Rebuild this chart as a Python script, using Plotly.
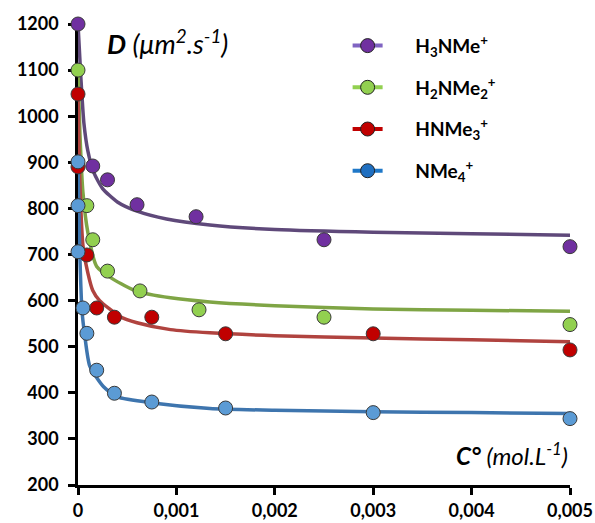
import plotly.graph_objects as go

# ---- measured points ----
x_h3 = [0, 0.00015, 0.0003, 0.0006, 0.0012, 0.0025, 0.005]
y_h3 = [1200, 892, 862, 808, 782, 732, 717]

x_h2 = [0, 0.00009, 0.00015, 0.0003, 0.00063, 0.00123, 0.0025, 0.005]
y_h2 = [1100, 806, 732, 664, 621, 580, 564, 548]

x_h1 = [0, 0, 0.00009, 0.00019, 0.00037, 0.00075, 0.0015, 0.003, 0.005]
y_h1 = [1048, 890, 699, 584, 564, 564, 528, 528, 493]

x_h0 = [0, 0, 0, 0.00005, 0.00009, 0.00019, 0.00037, 0.00075, 0.0015, 0.003, 0.005]
y_h0 = [901, 806, 706, 584, 529, 449, 399, 380, 367, 357, 344]

# ---- fitted curves ----
fx_h3 = [0, 0.00003, 0.00006, 0.0001, 0.00016, 0.00025, 0.0004, 0.0006, 0.0009, 0.00134, 0.002, 0.003, 0.004, 0.005]
fy_h3 = [1200, 1080, 985, 925, 878, 843, 814, 794, 777, 764, 754, 748, 745, 742]

fx_h2 = [0, 0.00002, 0.00005, 0.0001, 0.00019, 0.00036, 0.0006, 0.00094, 0.00134, 0.002, 0.003, 0.004, 0.005]
fy_h2 = [1100, 960, 835, 748, 674, 646, 620, 606, 597, 589, 582, 579, 577]

fx_h1 = [0, 0.00002, 0.00005, 0.0001, 0.00015, 0.00022, 0.00043, 0.0006, 0.00094, 0.00134, 0.002, 0.003, 0.004, 0.005]
fy_h1 = [1047, 850, 720, 660, 622, 600, 565, 552, 537, 530, 524, 519, 515, 511]

fx_h0 = [0, 0.00001, 0.00002, 0.00004, 0.00007, 0.00012, 0.00026, 0.0004, 0.00076, 0.00134, 0.002, 0.003, 0.004, 0.005]
fy_h0 = [900, 790, 690, 580, 522, 458, 413, 391, 378, 366, 362, 359, 357, 355]

names = ["H<sub>3</sub>NMe<sup>+</sup>", "H<sub>2</sub>NMe<sub>2</sub><sup>+</sup>",
         "HNMe<sub>3</sub><sup>+</sup>", "NMe<sub>4</sub><sup>+</sup>"]

x_ticks = [0, 0.001, 0.002, 0.003, 0.004, 0.005]
x_ticktext = ["0", "0,001", "0,002", "0,003", "0,004", "0,005"]
y_ticks = [200, 300, 400, 500, 600, 700, 800, 900, 1000, 1100, 1200]

marker_cols = ["#7030A0", "#92D050", "#C00000", "#5B9BD5"]
fit_cols = ["#5F497A", "#7FA545", "#B0433F", "#3E75AE"]
leg_line_cols = ["#8064C2", "#92D050", "#C00000", "#1F78C8"]
leg_mark_cols = ["#7030A0", "#92D050", "#C00000", "#1F6FC0"]

pts = [(x_h3, y_h3), (x_h2, y_h2), (x_h1, y_h1), (x_h0, y_h0)]
fits = [(fx_h3, fy_h3), (fx_h2, fy_h2), (fx_h1, fy_h1), (fx_h0, fy_h0)]

FONT = "Lato"
PAD = "&nbsp;" * 6
fig = go.Figure()

for i in range(4):
    fx, fy = fits[i]
    fig.add_trace(go.Scatter(x=fx, y=fy, mode="lines", showlegend=False,
                             line=dict(color=fit_cols[i], width=3.5, shape="spline", smoothing=0.6),
                             cliponaxis=False, hoverinfo="skip"))
for i in range(4):
    px, py = pts[i]
    fig.add_trace(go.Scatter(x=px, y=py, mode="markers", showlegend=False,
                             marker=dict(size=14, color=marker_cols[i],
                                         line=dict(color="#3A3A3A", width=1)),
                             cliponaxis=False))
for i in range(4):
    fig.add_trace(go.Scatter(x=[None], y=[None], mode="lines+markers", name=PAD + names[i],
                             legendgroup="g%d" % i,
                             line=dict(color=leg_line_cols[i], width=4),
                             marker=dict(size=14, color=leg_mark_cols[i],
                                         line=dict(color="#222222", width=1))))

fig.update_layout(
    width=595, height=523,
    margin=dict(l=78, r=25, t=24, b=38),
    paper_bgcolor="white", plot_bgcolor="white",
    font=dict(family=FONT, size=18, color="black"),
    showlegend=True,
    legend=dict(x=0.548, y=0.994, xanchor="left", yanchor="top",
                font=dict(family=FONT, size=19, color="black", weight="bold"),
                bgcolor="rgba(0,0,0,0)", tracegroupgap=14,
                traceorder="grouped"),
    xaxis=dict(range=[0, 0.005], tickvals=x_ticks, ticktext=x_ticktext,
               showgrid=False, zeroline=False, showline=True, linecolor="black", linewidth=2.5,
               ticks="outside", ticklen=7, tickwidth=2.5, tickcolor="black",
               tickfont=dict(family=FONT, size=18, color="black", weight="bold"),
               ticklabelstandoff=1, layer="below traces", automargin=False),
    yaxis=dict(range=[200, 1200], tickvals=y_ticks,
               showgrid=False, zeroline=False, showline=True, linecolor="black", linewidth=2.5,
               ticks="outside", ticklen=7, tickwidth=2.5, tickcolor="black",
               tickfont=dict(family=FONT, size=18, color="black", weight="bold"),
               ticklabelstandoff=6, layer="below traces", automargin=False),
    annotations=[
        dict(x=0.055, y=0.962, xref="paper", yref="paper", xanchor="left", yanchor="middle",
             showarrow=False, text="<b><i>D</i></b><i> (μm<sup>2</sup>.s<sup>-1</sup>)</i>",
             font=dict(family=FONT, size=27, color="black")),
        dict(x=1.0, y=0.067, xref="paper", yref="paper", xanchor="right", yanchor="middle",
             showarrow=False, text="<b><i>C°</i></b><i> (mol.L<sup>-1</sup>)</i>",
             font=dict(family=FONT, size=24, color="black")),
    ],
)

fig.write_html("out.html")
